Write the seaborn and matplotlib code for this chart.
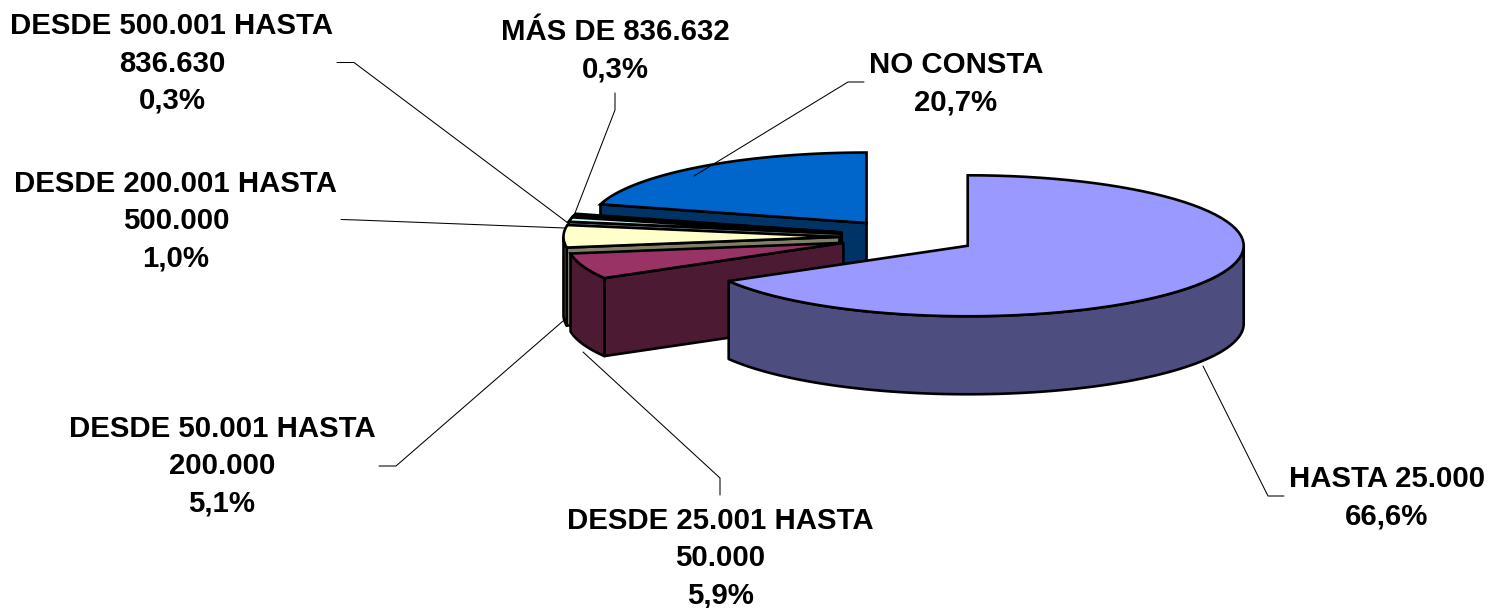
import numpy as np
import matplotlib
matplotlib.use("Agg")
import matplotlib.pyplot as plt
import seaborn as sns

names = ["HASTA 25.000", "DESDE 25.001 HASTA\n50.000", "DESDE 50.001 HASTA\n200.000",
         "DESDE 200.001 HASTA\n500.000", "DESDE 500.001 HASTA\n836.630", "MÁS DE 836.632", "NO CONSTA"]
values = [66.6, 5.9, 5.1, 1.0, 0.3, 0.3, 20.7]
top_colors = ["#9999FF", "#993366", "#FFFFCC", "#CCFFFF", "#660066", "#FF8080", "#0066CC"]

# pie geometry in pixels
cx, cy = 908.2, 237
rx, ry = 276, 70.5
depth = 78
explode = 0.249

# label centre and leader line for each slice
label_pos = [(1387, 497.5), (720, 558), (222, 466.5), (176, 221), (172, 63.5), (615, 50.5), (956, 83.5)]
leaders = [
    [(1284, 496), (1268, 496), (1203, 366)],
    [(720, 495), (720, 478), (583, 352)],
    [(379, 466), (396, 466), (563, 321)],
    [(341, 219.5), (357, 220), (565, 228)],
    [(337, 62.5), (354, 62.5), (568, 223)],
    [(615, 93), (615, 110), (575, 213)],
    [(864, 82), (848, 82), (694, 176)],
]

sns.set_theme(style="white")
plt.rcParams["font.family"] = ["Liberation Sans", "DejaVu Sans"]
palette = sns.color_palette(top_colors)

fig = plt.figure(figsize=(14.88, 6.08), dpi=100)
ax = fig.add_axes([0, 0, 1, 1])
ax.set_xlim(0, 1488)
ax.set_ylim(608, 0)
ax.axis("off")

fracs = np.array(values) / sum(values)
ends = np.cumsum(fracs) * 360
starts = ends - fracs * 360


def rim(x0, y0, a, b):
    t = np.radians(np.linspace(a, b, 80))
    return x0 + rx * np.sin(t), y0 - ry * np.cos(t)


def draw_face(xs, ys, color):
    px = np.concatenate([xs, xs[::-1]])
    py = np.concatenate([ys, ys[::-1] + depth])
    ax.fill(px, py, facecolor=color, edgecolor="black", linewidth=1.9, joinstyle="round")


# back to front: blue one first, then the small ones, big slice last
for i in [6, 5, 4, 3, 2, 1, 0]:
    a, b = starts[i], ends[i]
    mid = np.radians((a + b) / 2)
    x0 = cx + explode * rx * np.sin(mid)
    y0 = cy - explode * ry * np.cos(mid)
    side = tuple(c * 0.5 for c in palette[i])

    if 180 < a < 360:
        xa, ya = rim(x0, y0, a, a)
        draw_face(np.array([x0, xa[0]]), np.array([y0, ya[0]]), side)
    if max(a, 90) < min(b, 270):
        xs, ys = rim(x0, y0, max(a, 90), min(b, 270))
        draw_face(xs, ys, side)

    xs, ys = rim(x0, y0, a, b)
    ax.fill(np.r_[x0, xs], np.r_[y0, ys], facecolor=palette[i], edgecolor="black",
            linewidth=1.9, joinstyle="miter")

for pts in leaders:
    ax.plot(*zip(*pts), color="black", linewidth=0.75)

for name, v, (lx, ly) in zip(names, values, label_pos):
    txt = name + "\n" + f"{v:.1f}%".replace(".", ",")
    ax.text(lx, ly, txt, ha="center", va="center", fontsize=21.15, fontweight="bold",
            color="black", linespacing=1.43)

fig.savefig("out.png", dpi=100)
